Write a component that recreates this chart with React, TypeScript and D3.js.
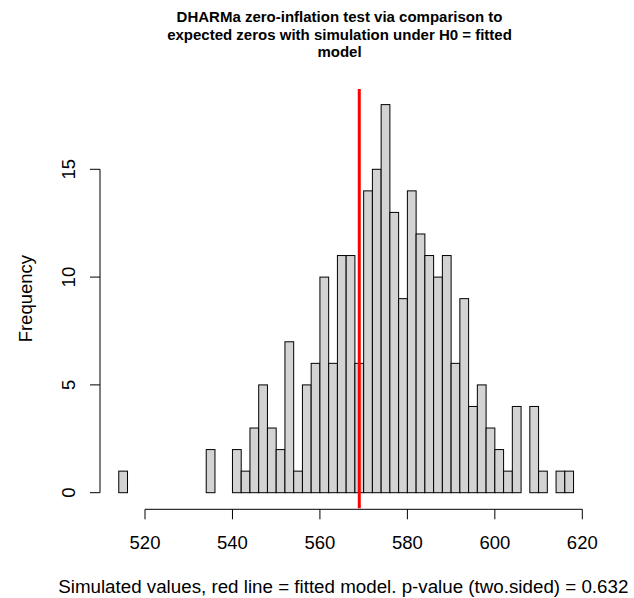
import * as d3 from "d3";

// lower edge of each histogram bin (bin width 2)
const binStarts = [
  514, 516, 518, 520, 522, 524, 526, 528, 530, 532, 534, 536, 538, 540, 542, 544, 546, 548,
  550, 552, 554, 556, 558, 560, 562, 564, 566, 568, 570, 572, 574, 576, 578, 580, 582, 584,
  586, 588, 590, 592, 594, 596, 598, 600, 602, 604, 606, 608, 610, 612, 614, 616,
];
const counts = [
  1, 0, 0, 0, 0, 0, 0, 0, 0, 0, 2, 0, 0, 2, 1, 3, 5, 3,
  2, 7, 1, 5, 6, 10, 6, 11, 11, 6, 14, 15, 18, 13, 9, 14, 12, 11,
  10, 11, 6, 9, 4, 5, 3, 2, 1, 4, 0, 4, 1, 0, 1, 1,
];
const binWidth = 2;
const observed = 569;
const xTicks = [520, 540, 560, 580, 600, 620];
const yTicks = [0, 5, 10, 15];

const titleLines = [
  "DHARMa zero-inflation test via comparison to",
  "expected zeros with simulation under H0 = fitted",
  "model",
];
const xLabel = "Simulated values, red line = fitted model. p-value (two.sided) = 0.632";
const yLabel = "Frequency";

export default function App() {
  const W = 634;
  const H = 598;
  const font = "'Liberation Sans', Arial, sans-serif";

  const x = d3.scaleLinear().domain([520, 620]).range([145, 582.3]);
  const y = d3.scaleLinear().domain([0, 15]).range([492.7, 169.3]);
  // plot region (R's 4% extension of ylim 0..18)
  const plotTop = y(18.72);
  const plotBottom = y(-0.72);
  const axisY = 509.3;
  const axisX = 100;

  return (
    <svg
      width={W}
      height={H}
      style={{ position: "absolute", left: 0, top: 0, background: "#fff" }}
      fontFamily={font}
    >
      {/* title */}
      {titleLines.map((t, i) => (
        <text
          key={i}
          x={339.5}
          y={22 + i * 17.5}
          textAnchor="middle"
          fontWeight="bold"
          fontSize={15}
          fill="#000"
        >
          {t}
        </text>
      ))}

      {/* bars */}
      {binStarts.map((b, i) => (
        <rect
          key={b}
          x={x(b)}
          y={y(counts[i])}
          width={x(b + binWidth) - x(b)}
          height={y(0) - y(counts[i])}
          fill="#d3d3d3"
          stroke="#000"
          strokeWidth={1}
        />
      ))}

      {/* observed value */}
      <line
        x1={x(observed)}
        x2={x(observed)}
        y1={plotTop}
        y2={plotBottom}
        stroke="#ff0000"
        strokeWidth={3}
      />

      {/* x axis */}
      <line x1={x(xTicks[0])} x2={x(xTicks[xTicks.length - 1])} y1={axisY} y2={axisY} stroke="#000" />
      {xTicks.map((t) => (
        <g key={t}>
          <line x1={x(t)} x2={x(t)} y1={axisY} y2={axisY + 10} stroke="#000" />
          <text x={x(t)} y={548.5} textAnchor="middle" fontSize={18.5} fill="#000">
            {t}
          </text>
        </g>
      ))}
      <text x={343.3} y={592.5} textAnchor="middle" fontSize={18.75} fill="#000">
        {xLabel}
      </text>

      {/* y axis */}
      <line x1={axisX} x2={axisX} y1={y(yTicks[0])} y2={y(yTicks[yTicks.length - 1])} stroke="#000" />
      {yTicks.map((t) => (
        <g key={t}>
          <line x1={axisX - 10} x2={axisX} y1={y(t)} y2={y(t)} stroke="#000" />
          <text
            transform={`translate(${74.5},${y(t)}) rotate(-90)`}
            textAnchor="middle"
            fontSize={18.5}
            fill="#000"
          >
            {t}
          </text>
        </g>
      ))}
      <text
        transform={`translate(${31.5},${(plotTop + plotBottom) / 2}) rotate(-90)`}
        textAnchor="middle"
        fontSize={18.5}
        fill="#000"
      >
        {yLabel}
      </text>
    </svg>
  );
}
